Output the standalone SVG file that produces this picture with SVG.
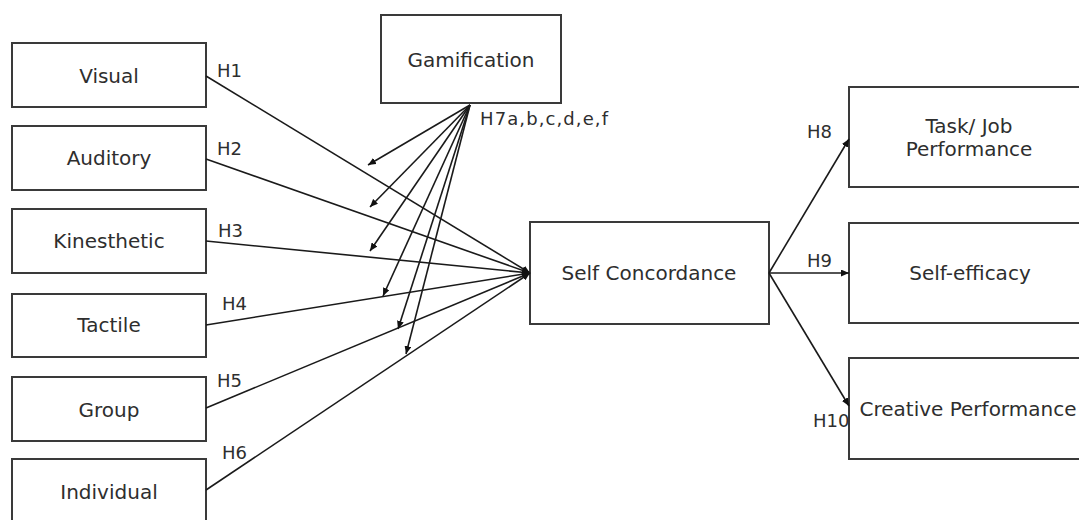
<svg xmlns="http://www.w3.org/2000/svg" width="1079" height="520" viewBox="0 0 1079 520">
<style>
.box{fill:#fff;stroke:#3a3a3a;stroke-width:2}
.lbl{font-family:"DejaVu Sans",sans-serif;font-size:20px;fill:#2e2e2e;text-anchor:middle}
.h{font-family:"DejaVu Sans",sans-serif;font-size:18px;fill:#2e2e2e}
.ln{stroke:#1a1a1a;stroke-width:1.6;fill:none;marker-end:url(#ah)}
</style>
<defs>
<marker id="ah" markerUnits="userSpaceOnUse" markerWidth="8" markerHeight="7" refX="8" refY="3.5" orient="auto">
<path d="M0,0 L8,3.5 L0,7 z" fill="#111"/>
</marker>
</defs>
<rect width="1079" height="520" fill="#fff"/>
<g id="visual"><rect class="box" x="12" y="43" width="194" height="64"/><text class="lbl" x="109" y="83">Visual</text></g>
<g id="auditory"><rect class="box" x="12" y="126" width="194" height="64"/><text class="lbl" x="109" y="165">Auditory</text></g>
<g id="kinesthetic"><rect class="box" x="12" y="209" width="194" height="64"/><text class="lbl" x="109" y="248">Kinesthetic</text></g>
<g id="tactile"><rect class="box" x="12" y="294" width="194" height="63"/><text class="lbl" x="109" y="332">Tactile</text></g>
<g id="group"><rect class="box" x="12" y="377" width="194" height="64"/><text class="lbl" x="109" y="417">Group</text></g>
<g id="individual"><rect class="box" x="12" y="459" width="194" height="66"/><text class="lbl" x="109" y="499">Individual</text></g>
<g id="gamification"><rect class="box" x="381" y="15" width="180" height="88"/><text class="lbl" x="471" y="67">Gamification</text></g>
<g id="self-concordance"><rect class="box" x="530" y="222" width="239" height="102"/><text class="lbl" x="649" y="280">Self Concordance</text></g>
<g id="task-job-performance"><rect class="box" x="849" y="87" width="250" height="100"/><text class="lbl" x="969" y="133">Task/ Job</text><text class="lbl" x="969" y="156">Performance</text></g>
<g id="self-efficacy"><rect class="box" x="849" y="223" width="250" height="100"/><text class="lbl" x="970" y="280">Self-efficacy</text></g>
<g id="creative-performance"><rect class="box" x="849" y="358" width="250" height="101"/><text class="lbl" x="968" y="416">Creative Performance</text></g>
<g id="connectors">
<line class="ln" x1="206" y1="76" x2="530" y2="273"/>
<line class="ln" x1="206" y1="159" x2="530" y2="273"/>
<line class="ln" x1="206" y1="241" x2="530" y2="273"/>
<line class="ln" x1="206" y1="325" x2="530" y2="273"/>
<line class="ln" x1="206" y1="408" x2="530" y2="273"/>
<line class="ln" x1="206" y1="490" x2="530" y2="273"/>
<line class="ln" x1="470" y1="105" x2="368" y2="165"/>
<line class="ln" x1="470" y1="105" x2="370" y2="207"/>
<line class="ln" x1="470" y1="105" x2="370" y2="251"/>
<line class="ln" x1="470" y1="105" x2="383" y2="296"/>
<line class="ln" x1="470" y1="105" x2="398" y2="329"/>
<line class="ln" x1="470" y1="105" x2="406" y2="354"/>
<line class="ln" x1="769" y1="273" x2="849" y2="139"/>
<line class="ln" x1="769" y1="273" x2="849" y2="273"/>
<line class="ln" x1="769" y1="273" x2="849" y2="406"/>
</g>
<g id="labels">
<text class="h" x="217" y="77">H1</text>
<text class="h" x="217" y="155">H2</text>
<text class="h" x="218" y="237">H3</text>
<text class="h" x="222" y="310">H4</text>
<text class="h" x="217" y="387">H5</text>
<text class="h" x="222" y="459">H6</text>
<text class="h" x="480" y="125" letter-spacing="1.1">H7a,b,c,d,e,f</text>
<text class="h" x="807" y="138">H8</text>
<text class="h" x="807" y="267">H9</text>
<text class="h" x="813" y="427">H10</text>
</g>
</svg>
